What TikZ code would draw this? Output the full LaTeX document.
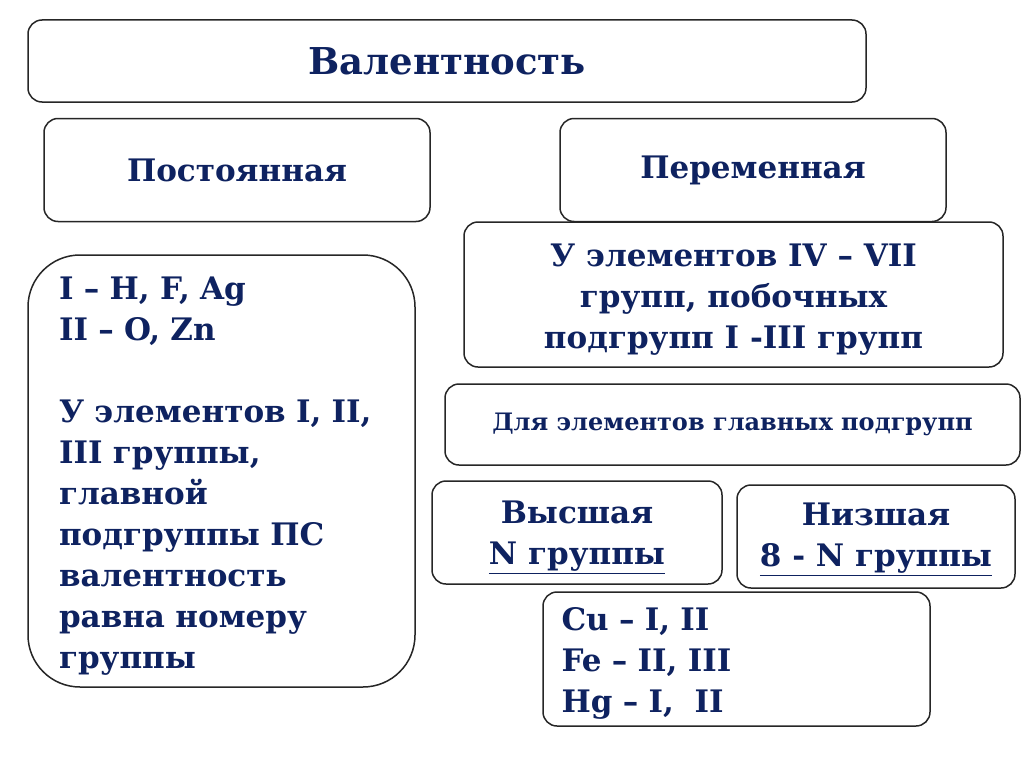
\documentclass[tikz,border=0pt]{standalone}
\usepackage{fontspec}
\setmainfont{DejaVu Serif}
\usetikzlibrary{positioning}
\definecolor{ink}{RGB}{14,34,96}
\tikzset{
  box/.style={draw=black!85, line width=1.5pt, rounded corners=14pt, fill=white, inner sep=0pt},
  lbl/.style={text=ink, font=\bfseries\fontsize{31}{41}\selectfont, align=center},
}

\begin{document}
\begin{tikzpicture}[x=1pt,y=-1pt]
    \useasboundingbox (0,0) rectangle (1024,768);

    \node[box, lbl, font=\bfseries\fontsize{37}{42}\selectfont, minimum width=838pt, minimum height=82pt] (val) at (447,61) {Валентность};

    \node[box, lbl, minimum width=386pt, minimum height=103pt] (post) at (237,170) {Постоянная};
    \node[box, lbl, minimum width=386pt, minimum height=103pt] (perem) at (753,170) {Переменная};

    % left column
    \node[box, rounded corners=52pt, minimum width=387pt, minimum height=432pt] (const) at (221.5,471) {};
    \node[lbl, text width=325pt, align=left] (consttxt) at ([yshift=-5pt]const.center)
        {I – H, F, Ag\\ II – O, Zn\\[41pt] У элементов I, II,\\ III группы,\\ главной\\ подгруппы ПС\\ валентность\\ равна номеру\\ группы};

    % right column
    \node[box, minimum width=539pt, minimum height=145pt] (var) at (733.5,294.5) {};
    \node[lbl] (vartxt) at ([yshift=-5pt]var.center)
        {У элементов IV – VII\\ групп, побочных\\ подгрупп I -III групп};

    \node[box, lbl, font=\bfseries\fontsize{24}{28}\selectfont, minimum width=575pt, minimum height=81pt] (main) at (732.5,424.5)
        {Для элементов главных подгрупп};

    \node[box, minimum width=290pt, minimum height=103pt] (high) at (577,532.5) {};
    \node[lbl] (hightxt) at ([yshift=-5pt]high.center) {Высшая\\ \underline{N группы}};
    \node[box, minimum width=278pt, minimum height=103pt] (low) at (876,536.5) {};
    \node[lbl] (lowtxt) at ([yshift=-3pt]low.center) {Низшая\\ \underline{8 - N группы}};

    \node[box, minimum width=387pt, minimum height=134pt] (ex) at (736.5,659) {};
    \node[lbl, text width=350pt, align=left] (extxt) at ([yshift=-4pt]ex.center)
        {Cu – I, II\\ Fe – II, III\\ Hg – I,\ \ II};

\end{tikzpicture}
\end{document}
